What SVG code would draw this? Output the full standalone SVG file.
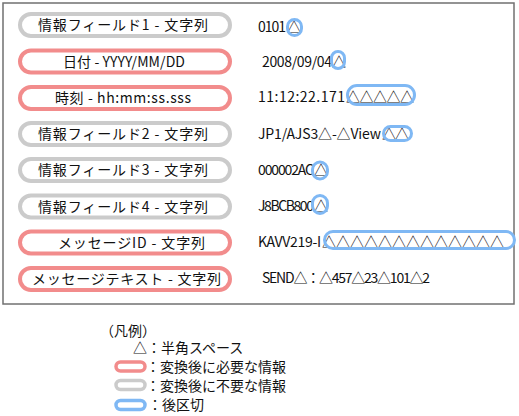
<svg xmlns="http://www.w3.org/2000/svg" width="519" height="416" viewBox="0 0 519 416">
<style>
text{font-family:"Noto Sans CJK JP","Noto Sans",sans-serif;font-size:14px;fill:#111}
.pill{fill:#fff;stroke-width:4}
.req{stroke:#f28c8c}
.unreq{stroke:#cbcbcb}
.sep{fill:none;stroke:#7fb8f4;stroke-width:3}
.frame{fill:#fff;stroke:#707070;stroke-width:1.5}
</style>
<rect class="frame" x="3" y="3" width="511" height="301"/>
<g id="field1">
<rect class="pill unreq" x="20" y="14" width="210" height="22" rx="11"/>
<text x="38" y="30" textLength="170" lengthAdjust="spacing">情報フィールド1 - 文字列</text>
<text x="258" y="32"><tspan textLength="28" lengthAdjust="spacing">0101</tspan><tspan x="287">△</tspan></text>
<rect class="sep" x="287.5" y="19.5" width="14" height="16" rx="7"/>
</g>
<g id="date">
<rect class="pill req" x="20" y="50.5" width="210" height="22" rx="11"/>
<text x="63" y="66.5" textLength="122" lengthAdjust="spacing">日付 - YYYY/MM/DD</text>
<text x="262" y="67"><tspan textLength="70" lengthAdjust="spacing">2008/09/04</tspan><tspan x="332">△</tspan></text>
<rect class="sep" x="331.5" y="51.5" width="13" height="17" rx="6.5"/>
</g>
<g id="time">
<rect class="pill req" x="20" y="87" width="210" height="22" rx="11"/>
<text x="55" y="103" textLength="136" lengthAdjust="spacing">時刻 - hh:mm:ss.sss</text>
<text x="258" y="102"><tspan textLength="87" lengthAdjust="spacing">11:12:22.171</tspan><tspan x="346" textLength="68" lengthAdjust="spacing">△△△△△</tspan></text>
<rect class="sep" x="347.5" y="85.5" width="67" height="19" rx="9.5"/>
</g>
<g id="field2">
<rect class="pill unreq" x="20" y="123" width="210" height="22" rx="11"/>
<text x="38" y="139" textLength="170" lengthAdjust="spacing">情報フィールド2 - 文字列</text>
<text x="258" y="139"><tspan textLength="123" lengthAdjust="spacing">JP1/AJS3△-△View</tspan><tspan x="382" textLength="27" lengthAdjust="spacing">△△</tspan></text>
<rect class="sep" x="383.5" y="126.5" width="28" height="14" rx="7"/>
</g>
<g id="field3">
<rect class="pill unreq" x="20" y="159" width="210" height="22" rx="11"/>
<text x="38" y="175" textLength="170" lengthAdjust="spacing">情報フィールド3 - 文字列</text>
<text x="258" y="175"><tspan textLength="56" lengthAdjust="spacing">000002AC</tspan><tspan x="314">△</tspan></text>
<rect class="sep" x="312.5" y="162" width="15" height="17" rx="7.5"/>
</g>
<g id="field4">
<rect class="pill unreq" x="20" y="195.5" width="210" height="22" rx="11"/>
<text x="38" y="211.5" textLength="170" lengthAdjust="spacing">情報フィールド4 - 文字列</text>
<text x="258" y="211"><tspan textLength="56" lengthAdjust="spacing">J8BCB800</tspan><tspan x="314">△</tspan></text>
<rect class="sep" x="312.5" y="195.5" width="15" height="18" rx="7.5"/>
</g>
<g id="msgid">
<rect class="pill req" x="20" y="231.5" width="210" height="22" rx="11"/>
<text x="58" y="247.5" textLength="147" lengthAdjust="spacing">メッセージID - 文字列</text>
<text x="258" y="247"><tspan textLength="63" lengthAdjust="spacing">KAVV219-I</tspan><tspan x="322" textLength="182" lengthAdjust="spacing">△△△△△△△△△△△△△</tspan></text>
<rect class="sep" x="324.5" y="231.5" width="190" height="17" rx="8.5"/>
</g>
<g id="msgtext">
<rect class="pill req" x="20" y="268" width="210" height="22" rx="11"/>
<text x="32" y="284" textLength="189" lengthAdjust="spacing">メッセージテキスト - 文字列</text>
<text x="262" y="283" textLength="168" lengthAdjust="spacing">SEND△：△457△23△101△2</text>
</g>
<g id="legend">
<text x="100" y="336" font-size="13">（凡例）</text>
<text x="133" y="353">△：半角スペース</text>
<rect x="116" y="362" width="29" height="9" rx="4.5" fill="#fff" stroke="#f28c8c" stroke-width="3.5"/>
<text x="146" y="372">：変換後に必要な情報</text>
<rect x="116" y="380.5" width="29" height="9" rx="4.5" fill="#fff" stroke="#cbcbcb" stroke-width="3.5"/>
<text x="146" y="391">：変換後に不要な情報</text>
<rect x="116" y="400.5" width="29" height="9" rx="4.5" fill="#fff" stroke="#7fb8f4" stroke-width="3.5"/>
<text x="148" y="410">：後区切</text>
</g>
</svg>
